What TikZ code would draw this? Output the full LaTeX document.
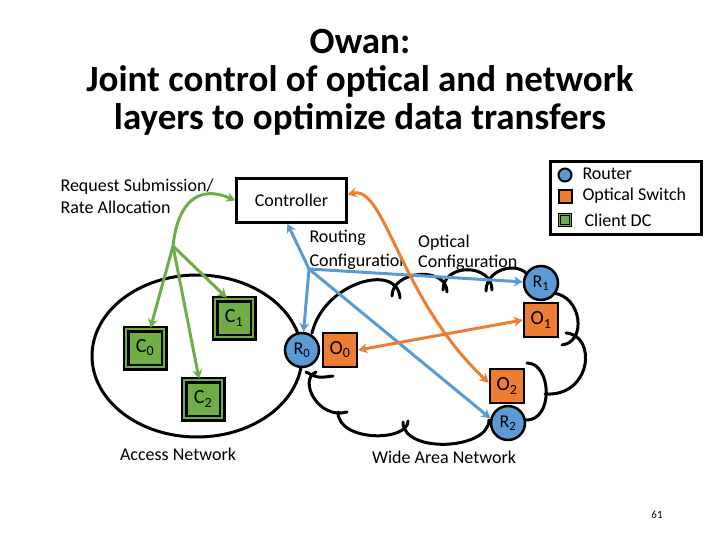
\documentclass[tikz,border=0pt]{standalone}
\usepackage{fontspec}
\setmainfont{Carlito}
\usetikzlibrary{arrows.meta}
\definecolor{grn}{RGB}{112,173,71}
\definecolor{blu}{RGB}{91,155,213}
\definecolor{org}{RGB}{237,125,49}
\begin{document}
\begin{tikzpicture}[x = 1pt, y = -1pt, font = \fontsize{18}{22}\selectfont,
	rt/.style = {circle, draw, line width = 2.5pt, fill = blu, minimum size = 34pt, inner sep = 0pt, font = \fontsize{18}{18}\selectfont},
	sw/.style = {rectangle, draw, line width = 2.5pt, fill = org, minimum size = 34pt, inner sep = 0pt, font = \fontsize{20}{20}\selectfont},
	dc/.style = {rectangle, draw, line width = 2.5pt, double = grn, double distance = 2pt, fill = grn, minimum size = 38pt, inner sep = 0pt, font = \fontsize{20}{20}\selectfont},
	tip/.style = {-{Stealth[length = 9pt, width = 10pt]}},
	ga/.style = {draw = grn, line width = 3pt, tip},
	ba/.style = {draw = blu, line width = 3pt, tip},
	oa/.style = {draw = org, line width = 3pt, {Stealth[length = 9pt, width = 10pt]}-{Stealth[length = 9pt, width = 10pt]}}]
	\useasboundingbox (0,0) rectangle (720,540);
	\node[align = center, font = \fontsize{37}{38}\bfseries\selectfont] (title) at (360,82) {Owan:\\Joint control of optical and network\\layers to optimize data transfers};
	\node[draw, line width = 2.5pt, minimum width = 151pt, minimum height = 73pt] (leg) at (626,198) {};
	\node[circle, draw, line width = 2pt, fill = blu, minimum size = 13pt, inner sep = 0pt] (lr) at (565,175) {};
	\node[draw, line width = 2pt, fill = org, minimum size = 13pt, inner sep = 0pt] (lo) at (565,197) {};
	\node[draw, line width = 1pt, double = grn, double distance = 1.5pt, fill = grn, minimum size = 11pt, inner sep = 0pt] (lc) at (565,220) {};
	\node[anchor = west] at (579,174) {Router};
	\node[anchor = west] at (579,196) {Optical Switch};
	\node[anchor = west] at (581,220) {Client DC};
	\node[draw, line width = 2.5pt, minimum width = 110pt, minimum height = 44pt] (ctrl) at (291.5,200.5) {Controller};
	\node[anchor = west, align = left] (req) at (57,196) {Request Submission/\\Rate Allocation};
	\node[anchor = west, align = left, font = \fontsize{18}{24}\selectfont] (rcfg) at (306,250) {Routing\\Configuration};
	\node[anchor = west, align = left, fill = white, inner xsep = 15pt, inner ysep = 1pt, font = \fontsize{18}{20}\selectfont] (ocfg) at (403,253) {Optical\\Configuration};
	\draw[line width = 3pt, line cap = round]
		(312,333) .. controls (324,282) and (398,262) .. (400,298)
		(392,296) .. controls (392,270) and (447,266) .. (447,292)
		(443,290) .. controls (443,263) and (492,263) .. (492,290)
		(486,291) .. controls (486,266) and (525,260) .. (530,280)
		(553,293) .. controls (582,296) and (587,342) .. (562,345)
		(566,333) .. controls (597,335) and (592,397) .. (545,394)
		(527,363) .. controls (552,363) and (554,422) .. (525,420)
		(489,420) .. controls (489,450) and (403,454) .. (403,422)
		(408,421) .. controls (408,442) and (338,442) .. (338,412)
		(347,412) .. controls (318,420) and (298,380) .. (316,372)
		(306,372) .. controls (318,378) .. (333,376);
	\draw[line width = 3pt] (197,356) ellipse [x radius = 105pt, y radius = 81pt];
	\node[dc] (c0) at (145,348) {C\textsubscript{0}};
	\node[dc] (c1) at (234,318) {C\textsubscript{1}};
	\node[dc] (c2) at (203,399) {C\textsubscript{2}};
	\node[rt] (r0) at (302,350) {R\textsubscript{0}};
	\node[sw] (o0) at (340,350) {O\textsubscript{0}};
	\node[rt] (r1) at (541,283) {R\textsubscript{1}};
	\node[sw] (o1) at (541,320) {O\textsubscript{1}};
	\node[sw] (o2) at (507,386) {O\textsubscript{2}};
	\node[rt] (r2) at (508,423) {R\textsubscript{2}};
	\node (acc) at (178,454) {Access Network};
	\node (wan) at (444,457) {Wide Area Network};
	\node[font = \fontsize{11}{13}\selectfont] (pg) at (657,515) {61};
	\coordinate (gb) at (173,246);
	\coordinate (bb) at (309,269);
	\draw[ga] (gb) .. controls (178,200) and (200,185) .. (ctrl.west);
	\draw[ga] (gb) -- (c0);
	\draw[ga] (gb) -- (c1.110);
	\draw[ga] (gb) -- (c2);
	\draw[ba] (bb) .. controls (300,250) .. (ctrl.-100);
	\draw[ba] (bb) -- (r0);
	\draw[ba] (bb) -- (r1);
	\draw[ba] (bb) -- (r2.165);
	\draw[oa] (o0.east) -- (o1.west);
	\draw[oa] (ctrl.6) .. controls (385,185) and (400,300) .. (o2.170);
\end{tikzpicture}
\end{document}
